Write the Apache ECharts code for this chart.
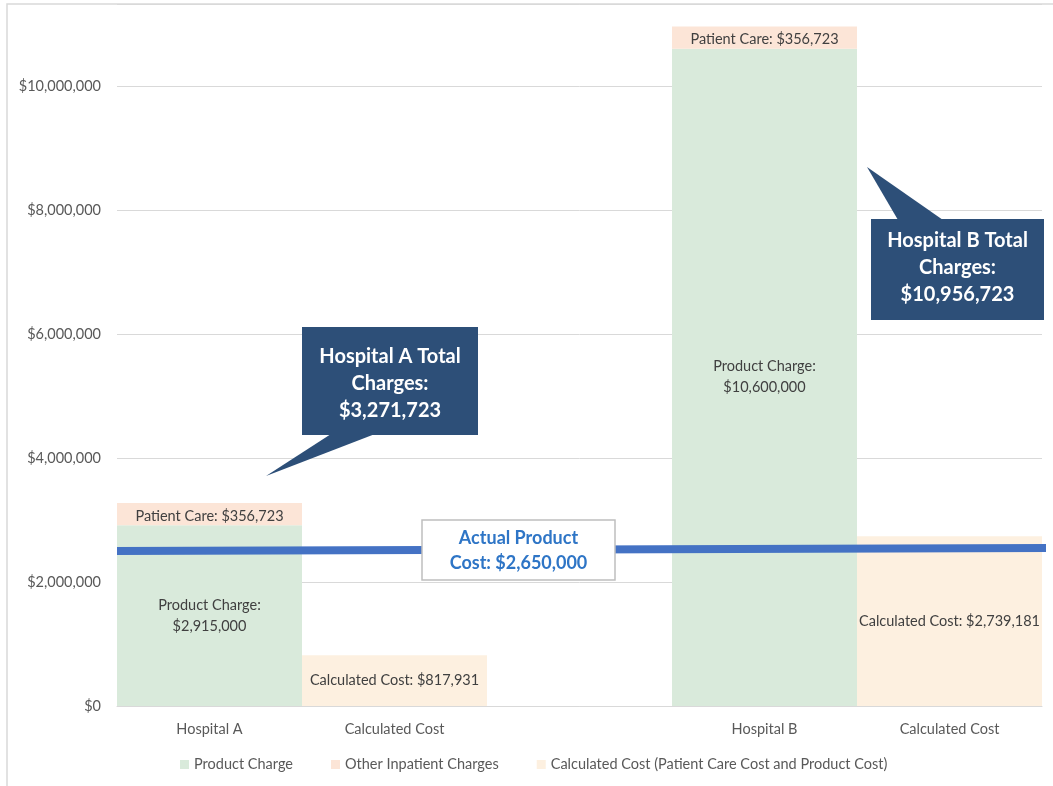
<!DOCTYPE html>
<html>
<head>
<meta charset="utf-8">
<script src="https://cdn.jsdelivr.net/npm/echarts@6/dist/echarts.min.js"></script>
<style>
  html, body { margin: 0; padding: 0; background: #fff; }
  #chart { width: 1053px; height: 786px; }
</style>
</head>
<body>
<div id="chart"></div>
<script>
var categories = ['Hospital A', 'Calculated Cost', '', 'Hospital B', 'Calculated Cost'];
var productCharge = [2915000, '-', '-', 10600000, '-'];
var otherCharges = [356723, '-', '-', 356723, '-'];
var calculatedCost = ['-', 817931, '-', '-', 2739181];
// actual product cost line, drawn across the full plot (slightly tilted as in the picture)
var actualCostLine = [[0, 2500000], [1.009, 2550000]];
var yTicks = [0, 2000000, 4000000, 6000000, 8000000, 10000000];

function money(v) {
  return '$' + Number(v).toLocaleString('en-US');
}

var font = 'Lato, "Open Sans", sans-serif';
var fs = 14.5;
var myChart = echarts.init(document.getElementById('chart'));

myChart.setOption({
  backgroundColor: '#fff',
  animation: false,
  textStyle: { fontFamily: font },
  grid: { left: 117, right: 11, top: 4, bottom: 80 },
  legend: {
    left: 175,
    top: 752,
    itemWidth: 9,
    itemHeight: 9,
    itemGap: 38,
    icon: 'rect',
    textStyle: { color: '#595959', fontSize: fs, fontFamily: font },
    data: ['Product Charge', 'Other Inpatient Charges', 'Calculated Cost (Patient Care Cost and Product Cost)']
  },
  xAxis: [{
    type: 'category',
    data: categories,
    axisLine: { lineStyle: { color: '#d9d9d9', width: 1 } },
    axisTick: { show: false },
    axisLabel: { color: '#595959', fontSize: fs, margin: 16 }
  }, {
    type: 'value',
    min: 0,
    max: 1,
    show: false
  }],
  yAxis: {
    type: 'value',
    min: 0,
    max: 11320000,
    interval: 2000000,
    axisLine: { show: false },
    axisTick: { show: false },
    splitLine: { lineStyle: { color: '#d9d9d9', width: 1 } },
    axisLabel: {
      color: '#595959',
      fontSize: fs,
      margin: 16,
      showMaxLabel: false,
      formatter: function (v) { return yTicks.indexOf(v) >= 0 ? money(v) : ''; }
    }
  },
  series: [{
    name: 'Product Charge',
    type: 'bar',
    stack: 'total',
    barWidth: '100%',
    data: productCharge,
    itemStyle: { color: '#d9eadb' },
    label: {
      show: true,
      position: 'inside',
      color: '#404040',
      fontSize: fs,
      lineHeight: 21,
      formatter: function (p) { return 'Product Charge:\n' + money(p.value); }
    }
  }, {
    name: 'Other Inpatient Charges',
    type: 'bar',
    stack: 'total',
    barWidth: '100%',
    data: otherCharges,
    itemStyle: { color: '#fce5d7' },
    label: {
      show: true,
      position: 'inside',
      offset: [0, 2],
      color: '#404040',
      fontSize: fs,
      formatter: function (p) { return 'Patient Care: ' + money(p.value); }
    }
  }, {
    name: 'Calculated Cost (Patient Care Cost and Product Cost)',
    type: 'bar',
    stack: 'total',
    barWidth: '100%',
    data: calculatedCost,
    itemStyle: { color: '#fdf0e0' },
    label: {
      show: true,
      position: 'inside',
      color: '#404040',
      fontSize: fs,
      formatter: function (p) { return 'Calculated Cost: ' + money(p.value); }
    }
  }, {
    name: 'Actual Product Cost',
    type: 'line',
    xAxisIndex: 1,
    data: actualCostLine,
    clip: false,
    symbol: 'none',
    z: 5,
    lineStyle: { color: '#4472c4', width: 8, cap: 'butt' }
  }],
  graphic: [
    // chart frame (top and left edges)
    { type: 'polyline', z: 0, shape: { points: [[7, 786], [7, 4], [1053, 4]] }, style: { stroke: '#d9d9d9', lineWidth: 1.5, fill: null } },
    // Hospital A callout
    { type: 'polygon', z: 10, shape: { points: [[331, 434], [375, 434], [266, 476]] }, style: { fill: '#2d4f78' } },
    { type: 'rect', z: 10, shape: { x: 302, y: 327, width: 176, height: 108 },
      style: { fill: '#2d4f78' } },
    { type: 'text', z: 11, x: 390, y: 343,
      style: { text: 'Hospital A Total\nCharges:\n$3,271,723', align: 'center', fill: '#fff',
        font: 'bold 20px ' + font, lineHeight: 27 } },
    // Hospital B callout
    { type: 'polygon', z: 10, shape: { points: [[898, 220], [943, 220], [867, 167]] }, style: { fill: '#2d4f78' } },
    { type: 'rect', z: 10, shape: { x: 871, y: 219, width: 173, height: 101 },
      style: { fill: '#2d4f78' } },
    { type: 'text', z: 11, x: 957.5, y: 227,
      style: { text: 'Hospital B Total\nCharges:\n$10,956,723', align: 'center', fill: '#fff',
        font: 'bold 20px ' + font, lineHeight: 27 } },
    // actual product cost label
    { type: 'rect', z: 10, shape: { x: 422, y: 520, width: 193, height: 60 },
      style: { fill: '#fff', stroke: '#bfbfbf', lineWidth: 1.5 } },
    { type: 'text', z: 11, x: 518.5, y: 526,
      style: { text: 'Actual Product\nCost: $2,650,000', align: 'center', fill: '#2e75c6',
        font: 'bold 18px ' + font, lineHeight: 25 } }
  ]
});
</script>
</body>
</html>
